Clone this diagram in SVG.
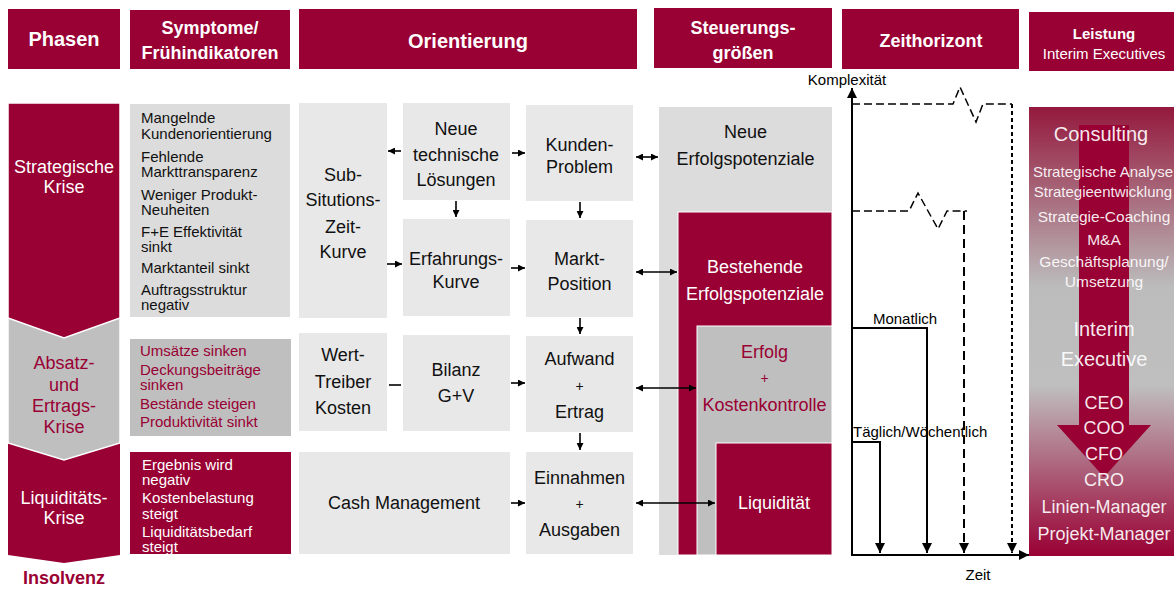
<svg xmlns="http://www.w3.org/2000/svg" width="1174" height="590" viewBox="0 0 1174 590">
  <style>
    text { font-family: "Liberation Sans", Arial, sans-serif; }
    .hd { fill: #fff; font-weight: bold; text-anchor: middle; }
    .red { fill: #990033; }
    .g1 { fill: #e8e8e8; }
    .g2 { fill: #dcdcdc; }
    .g3 { fill: #bfbfbf; }
    .t18 { font-size: 18px; fill: #111; text-anchor: middle; }
    .w18 { font-size: 18px; fill: #fff; text-anchor: middle; }
    .r18 { font-size: 18px; fill: #990033; text-anchor: middle; }
    .sym { font-size: 15px; fill: #111; }
    .symr { font-size: 15px; fill: #990033; }
    .symw { font-size: 15px; fill: #fff; }
    .ax { font-size: 15px; fill: #000; }
    .lw { fill: #fff; fill-opacity: 0.92; text-anchor: middle; }
    .con { stroke: #000; stroke-width: 1.6; fill: none; }
    .tl { stroke: #000; stroke-width: 2; fill: none; }
  </style>
  <defs>
    <marker id="ah" viewBox="0 0 10 10" refX="10" refY="5" markerWidth="7" markerHeight="7" markerUnits="userSpaceOnUse" orient="auto-start-reverse">
      <path d="M0,0 L10,5 L0,10 z" fill="#000"/>
    </marker>
    <marker id="ta" viewBox="0 0 10 10" refX="10" refY="5" markerWidth="10" markerHeight="10" markerUnits="userSpaceOnUse" orient="auto">
      <path d="M0,0 L10,5 L0,10 z" fill="#000"/>
    </marker>
    <linearGradient id="lg" x1="0" y1="0" x2="0" y2="1">
      <stop offset="0" stop-color="#94193d"/>
      <stop offset="0.4" stop-color="#bcbcbc"/>
      <stop offset="0.62" stop-color="#bfbfbf"/>
      <stop offset="1" stop-color="#990033"/>
    </linearGradient>
    <clipPath id="c3"><rect x="130" y="452" width="161" height="102"/></clipPath>
  </defs>

  <!-- column headers -->
  <g id="headers">
    <rect class="red" x="8" y="9" width="112" height="60"/>
    <text class="hd" x="64" y="46" font-size="20">Phasen</text>
    <rect class="red" x="130" y="10" width="160" height="59"/>
    <text class="hd" font-size="18"><tspan x="210" y="34">Symptome/</tspan><tspan x="210" y="59">Frühindikatoren</tspan></text>
    <rect class="red" x="299" y="9" width="338" height="60"/>
    <text class="hd" x="468" y="48" font-size="20">Orientierung</text>
    <rect class="red" x="654" y="8" width="178" height="60"/>
    <text class="hd" font-size="18"><tspan x="743" y="34">Steuerungs-</tspan><tspan x="743" y="59">größen</tspan></text>
    <rect class="red" x="842" y="9" width="177" height="60"/>
    <text class="hd" x="931" y="47" font-size="18">Zeithorizont</text>
    <rect class="red" x="1029" y="12" width="145" height="59"/>
    <text class="hd" x="1104" y="39" font-size="15">Leistung</text>
    <text x="1104" y="59" font-size="15" fill="#fff" text-anchor="middle">Interim Executives</text>
  </g>

  <!-- crisis phases -->
  <g id="phase-liquiditaet">
    <polygon class="red" points="8,440 120,440 120,555 64,563 8,555"/>
    <text class="w18"><tspan x="64" y="504">Liquiditäts-</tspan><tspan x="64" y="524">Krise</tspan></text>
  </g>
  <g id="phase-absatz">
    <polygon class="g3" points="8,316 120,316 120,443 64,460 8,443" stroke="#fff" stroke-width="1.5"/>
    <text class="r18"><tspan x="64" y="369">Absatz-</tspan><tspan x="64" y="391">und</tspan><tspan x="64" y="412">Ertrags-</tspan><tspan x="64" y="433">Krise</tspan></text>
  </g>
  <g id="phase-strategisch">
    <polygon class="red" points="8,103 120,103 120,318 64,338 8,318" stroke="#fff" stroke-width="1.5"/>
    <text class="w18"><tspan x="64" y="173">Strategische</tspan><tspan x="64" y="193">Krise</tspan></text>
  </g>
  <g id="phase-insolvenz">
    <text x="64" y="584" font-size="18" font-weight="bold" fill="#990033" text-anchor="middle">Insolvenz</text>
  </g>

  <!-- symptoms / early indicators -->
  <g id="sym-strategisch">
    <rect class="g2" x="130" y="104" width="160" height="213"/>
    <text class="sym"><tspan x="141" y="123">Mangelnde</tspan><tspan x="141" y="138.5">Kundenorientierung</tspan></text>
    <text class="sym"><tspan x="141" y="161.5">Fehlende</tspan><tspan x="141" y="177">Markttransparenz</tspan></text>
    <text class="sym"><tspan x="141" y="199.5">Weniger Produkt-</tspan><tspan x="141" y="214.5">Neuheiten</tspan></text>
    <text class="sym"><tspan x="141" y="237">F+E Effektivität</tspan><tspan x="141" y="252">sinkt</tspan></text>
    <text class="sym" x="141" y="273">Marktanteil sinkt</text>
    <text class="sym"><tspan x="141" y="294.5">Auftragsstruktur</tspan><tspan x="141" y="310">negativ</tspan></text>
  </g>
  <g id="sym-absatz">
    <rect class="g3" x="130" y="339" width="161" height="97"/>
    <text class="symr" x="140" y="356">Umsätze sinken</text>
    <text class="symr"><tspan x="140" y="374.5">Deckungsbeiträge</tspan><tspan x="140" y="390">sinken</tspan></text>
    <text class="symr" x="140" y="408.5">Bestände steigen</text>
    <text class="symr" x="140" y="426.5">Produktivität sinkt</text>
  </g>
  <g id="sym-liquiditaet">
    <rect class="red" x="130" y="452" width="161" height="102"/>
    <g clip-path="url(#c3)">
      <text class="symw"><tspan x="142" y="469.5">Ergebnis wird</tspan><tspan x="142" y="485">negativ</tspan></text>
      <text class="symw"><tspan x="142" y="503">Kostenbelastung</tspan><tspan x="142" y="518.5">steigt</tspan></text>
      <text class="symw"><tspan x="142" y="536.5">Liquiditätsbedarf</tspan><tspan x="142" y="552">steigt</tspan></text>
    </g>
  </g>

  <!-- orientation nodes -->
  <g id="n-substitution">
    <rect class="g1" x="299" y="103" width="88" height="215"/>
    <text class="t18"><tspan x="343" y="181.4">Sub-</tspan><tspan x="343" y="206.4">Situtions-</tspan><tspan x="343" y="233">Zeit-</tspan><tspan x="343" y="258">Kurve</tspan></text>
  </g>
  <g id="n-neue-technik">
    <rect class="g1" x="403" y="103" width="107" height="97"/>
    <text class="t18"><tspan x="456" y="134.7">Neue</tspan><tspan x="456" y="160.7">technische</tspan><tspan x="456" y="186.4">Lösungen</tspan></text>
  </g>
  <g id="n-kundenproblem">
    <rect class="g1" x="526" y="105" width="107" height="96"/>
    <text class="t18"><tspan x="579.5" y="150.7">Kunden-</tspan><tspan x="579.5" y="173">Problem</tspan></text>
  </g>
  <g id="n-erfahrung">
    <rect class="g1" x="403" y="219" width="107" height="97"/>
    <text class="t18"><tspan x="456" y="264.7">Erfahrungs-</tspan><tspan x="456" y="288">Kurve</tspan></text>
  </g>
  <g id="n-marktposition">
    <rect class="g1" x="526" y="220" width="107" height="97"/>
    <text class="t18"><tspan x="579.5" y="264.7">Markt-</tspan><tspan x="579.5" y="289.7">Position</tspan></text>
  </g>
  <g id="n-werttreiber">
    <rect class="g1" x="299" y="333" width="88" height="98"/>
    <text class="t18"><tspan x="343" y="361.4">Wert-</tspan><tspan x="343" y="388">Treiber</tspan><tspan x="343" y="413.7">Kosten</tspan></text>
  </g>
  <g id="n-bilanz">
    <rect class="g1" x="403" y="335" width="107" height="96"/>
    <text class="t18"><tspan x="456" y="376.4">Bilanz</tspan><tspan x="456" y="402.4">G+V</tspan></text>
  </g>
  <g id="n-aufwand">
    <rect class="g1" x="526" y="336" width="107" height="96"/>
    <text class="t18"><tspan x="579.5" y="364.7">Aufwand</tspan><tspan x="579.5" y="391" font-size="14">+</tspan><tspan x="579.5" y="418">Ertrag</tspan></text>
  </g>
  <g id="n-cash">
    <rect class="g1" x="299" y="452" width="211" height="102"/>
    <text class="t18" x="404" y="509">Cash Management</text>
  </g>
  <g id="n-einnahmen">
    <rect class="g1" x="526" y="452" width="107" height="102"/>
    <text class="t18"><tspan x="579.5" y="483.7">Einnahmen</tspan><tspan x="579.5" y="509" font-size="14">+</tspan><tspan x="579.5" y="536.4">Ausgaben</tspan></text>
  </g>

  <!-- control variables (nested) -->
  <g id="s-neue">
    <rect class="g2" x="659" y="107" width="173" height="448"/>
    <text class="t18"><tspan x="745.5" y="138.4">Neue</tspan><tspan x="745.5" y="165">Erfolgspotenziale</tspan></text>
  </g>
  <g id="s-bestehende">
    <rect class="red" x="678" y="212" width="154" height="343" stroke="#fff" stroke-width="1"/>
    <text class="w18"><tspan x="755" y="273.4">Bestehende</tspan><tspan x="755" y="300">Erfolgspotenziale</tspan></text>
  </g>
  <g id="s-erfolg">
    <rect class="g3" x="697" y="326" width="135" height="229" stroke="#fff" stroke-width="1"/>
    <text class="r18"><tspan x="764.5" y="358.4">Erfolg</tspan><tspan x="764.5" y="383" font-size="14">+</tspan><tspan x="764.5" y="411">Kostenkontrolle</tspan></text>
  </g>
  <g id="s-liquiditaet">
    <rect class="red" x="716" y="443" width="116" height="112" stroke="#fff" stroke-width="1"/>
    <text class="w18" x="774" y="509.4">Liquidität</text>
  </g>

  <!-- time horizon chart -->
  <g id="zeithorizont">
    <path class="tl" d="M852,556 L852,88" marker-end="url(#ta)"/>
    <path class="tl" d="M851,555 L1029,555" marker-end="url(#ta)"/>
    <text class="ax" x="847" y="85" text-anchor="middle">Komplexität</text>
    <text class="ax" x="978" y="580" text-anchor="middle">Zeit</text>
    <path d="M852,104 L953,104 L960,87 L976,122 L983,104 L1012,104" fill="none" stroke="#000" stroke-width="1.5" stroke-dasharray="8,4"/>
    <path d="M1012,104 L1012,553" fill="none" stroke="#000" stroke-width="2" stroke-dasharray="4,3" marker-end="url(#ta)"/>
    <path d="M852,211 L909,211 L918,193 L938,229 L947,211 L967,211" fill="none" stroke="#000" stroke-width="1.5" stroke-dasharray="8,4"/>
    <path d="M964,211 L964,553" fill="none" stroke="#000" stroke-width="2" stroke-dasharray="9,5" marker-end="url(#ta)"/>
    <path class="tl" d="M852,328 L927,328 L927,553" marker-end="url(#ta)"/>
    <text class="ax" x="905" y="324" text-anchor="middle">Monatlich</text>
    <path class="tl" d="M852,442 L880,442 L880,553" marker-end="url(#ta)"/>
    <text class="ax" x="853" y="437">Täglich/Wöchentlich</text>
  </g>

  <!-- services column -->
  <g id="leistung">
    <rect x="1029" y="107" width="145" height="449" fill="url(#lg)"/>
    <polygon class="red" points="1079,125 1129,125 1129,425 1151,425 1104,477 1057,425 1079,425"/>
    <text class="lw" x="1101" y="141" font-size="20">Consulting</text>
    <text class="lw" x="1103" y="177" font-size="15">Strategische Analyse</text>
    <text class="lw" x="1103" y="197" font-size="15">Strategieentwicklung</text>
    <text class="lw" x="1104" y="222" font-size="15.5">Strategie-Coaching</text>
    <text class="lw" x="1104" y="245" font-size="15.5">M&amp;A</text>
    <text class="lw" font-size="15.5"><tspan x="1104" y="267">Geschäftsplanung/</tspan><tspan x="1104" y="287">Umsetzung</tspan></text>
    <text class="lw" font-size="20"><tspan x="1104" y="336">Interim</tspan><tspan x="1104" y="366">Executive</tspan></text>
    <text class="lw" font-size="18"><tspan x="1104" y="409">CEO</tspan><tspan x="1104" y="434">COO</tspan><tspan x="1104" y="460">CFO</tspan><tspan x="1104" y="486">CRO</tspan></text>
    <text class="lw" font-size="18"><tspan x="1104" y="513">Linien-Manager</tspan><tspan x="1104" y="540">Projekt-Manager</tspan></text>
  </g>

  <!-- connectors -->
  <g id="connectors">
    <path class="con" d="M401,151 L388,151" marker-end="url(#ah)"/>
    <path class="con" d="M512,153 L525,153" marker-end="url(#ah)"/>
    <path class="con" d="M456,201 L456,217" marker-end="url(#ah)"/>
    <path class="con" d="M580,202 L580,218" marker-end="url(#ah)"/>
    <path class="con" d="M387,264 L402,264" marker-end="url(#ah)"/>
    <path class="con" d="M511,268 L525,268" marker-end="url(#ah)"/>
    <path class="con" d="M580,318 L580,334" marker-end="url(#ah)"/>
    <path class="con" d="M389,385 L401,385"/>
    <path class="con" d="M511,383 L525,383" marker-end="url(#ah)"/>
    <path class="con" d="M580,433 L580,450" marker-end="url(#ah)"/>
    <path class="con" d="M511,503 L525,503" marker-end="url(#ah)"/>
    <path class="con" d="M636,157 L658,157" marker-start="url(#ah)" marker-end="url(#ah)"/>
    <path class="con" d="M636,272 L677,272" marker-start="url(#ah)" marker-end="url(#ah)"/>
    <path class="con" d="M636,388 L696,388" marker-start="url(#ah)" marker-end="url(#ah)"/>
    <path class="con" d="M636,503 L715,503" marker-start="url(#ah)" marker-end="url(#ah)"/>
  </g>
</svg>
